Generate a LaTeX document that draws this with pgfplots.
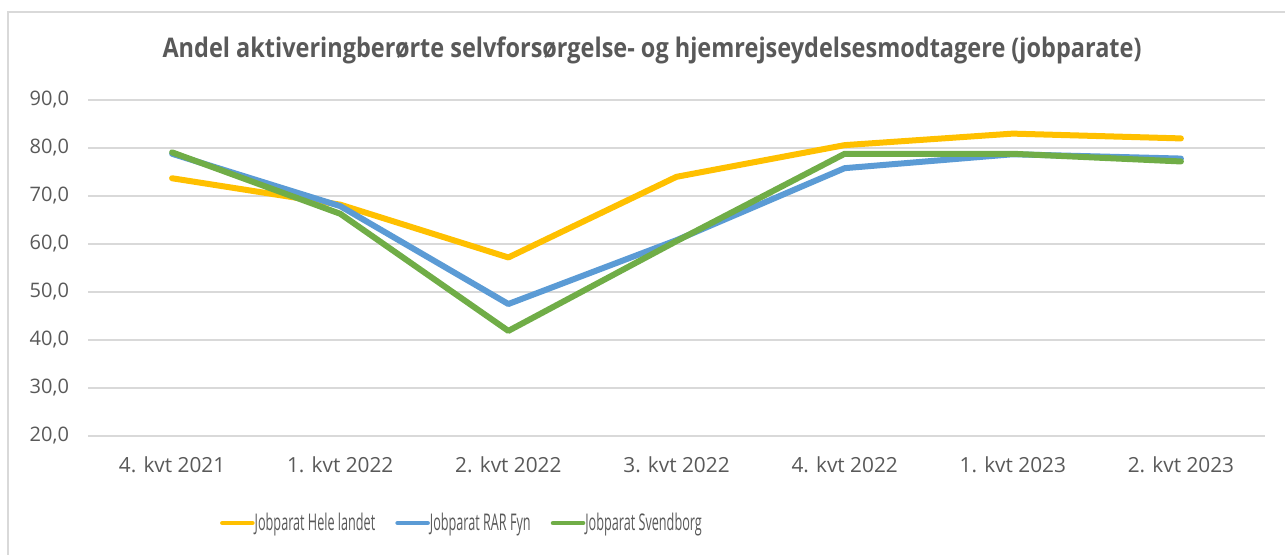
\documentclass[border=0pt]{standalone}
\usepackage{fontspec}
\setmainfont{Open Sans}
\newfontfamily\condfont{Open Sans}[FakeStretch=0.55]
\newfontfamily\condbold{Open Sans Bold}[FakeStretch=0.87]
\usepackage{pgfplots}
\pgfplotsset{compat=1.18}
\definecolor{cYellow}{HTML}{FFC000}
\definecolor{cBlue}{HTML}{5B9BD5}
\definecolor{cGreen}{HTML}{70AD47}
\definecolor{cGrid}{HTML}{D9D9D9}
\definecolor{cText}{HTML}{595959}
\begin{document}
\begin{tikzpicture}
\path[use as bounding box] (0,0) rectangle (642.5pt,277pt);
\draw[cGrid, line width=1pt] (4pt,-2pt) -- (4pt,271pt) -- (645pt,271pt);
\node[text=cText, font=\condbold\fontsize{13.5}{15}\selectfont] at (326pt,252pt) {Andel aktiveringberørte selvforsørgelse- og hjemrejseydelsesmodtagere (jobparate)};
\begin{axis}[
  at={(44pt,59pt)}, anchor=south west,
  scale only axis, width=588.5pt, height=168pt,
  xmin=-0.5, xmax=6.5, ymin=20, ymax=90,
  xtick={0,...,6},
  xticklabels={4. kvt 2021,1. kvt 2022,2. kvt 2022,3. kvt 2022,4. kvt 2022,1. kvt 2023,2. kvt 2023},
  ytick={20,30,...,90},
  /pgf/number format/fixed, /pgf/number format/fixed zerofill, /pgf/number format/precision=1,
  /pgf/number format/use comma, /pgf/number format/assume math mode=true,
  ticklabel style={text=cText},
  xticklabel style={yshift=-7pt, font=\fontsize{10.4}{12}\selectfont},
  yticklabel style={xshift=-6pt, font=\fontsize{10}{12}\selectfont},
  major tick length=0pt,
  axis line style={draw=none},
  ymajorgrids, grid style={cGrid, line width=0.8pt},
  legend columns=3,
  legend style={at={(0.3186,-0.259)}, anchor=center, draw=none, fill=none,
    font=\condfont\fontsize{11.5}{13}\selectfont, text=cText,
    /tikz/every even column/.append style={column sep=8pt},
    /tikz/every odd column/.append style={column sep=-2pt}},
  legend image code/.code={\draw[#1, line width=2.3pt, line cap=round] (0pt,0pt) -- (15pt,0pt);},
  every axis plot/.append style={line width=3pt, line join=round, line cap=round, mark=none},
]
\addplot[cYellow] coordinates {(0,73.7) (1,68.2) (2,57.2) (3,74.0) (4,80.6) (5,83.0) (6,82.0)};
\addlegendentry{Jobparat Hele landet}
\addplot[cBlue] coordinates {(0,78.8) (1,67.9) (2,47.5) (3,60.8) (4,75.8) (5,78.7) (6,77.8)};
\addlegendentry{Jobparat RAR Fyn}
\addplot[cGreen] coordinates {(0,79.1) (1,66.3) (2,41.9) (3,60.6) (4,78.8) (5,78.8) (6,77.2)};
\addlegendentry{Jobparat Svendborg}
\end{axis}
\end{tikzpicture}
\end{document}
